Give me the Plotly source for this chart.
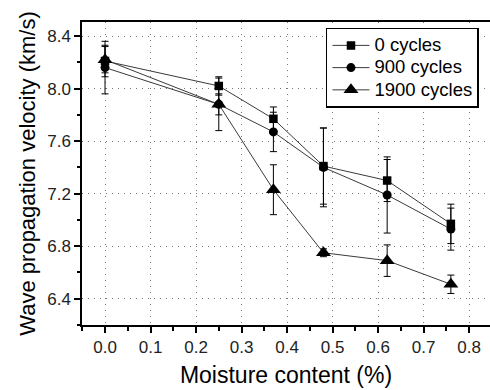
import plotly.graph_objects as go

moisture = [0.0, 0.25, 0.37, 0.48, 0.62, 0.76]

v_0 = [8.21, 8.02, 7.77, 7.41, 7.30, 6.97]
e_0 = [0.12, 0.07, 0.09, 0.29, 0.16, 0.15]

v_900 = [8.16, 7.88, 7.67, 7.40, 7.19, 6.93]
e_900 = [0.20, 0.20, 0.15, 0.30, 0.29, 0.16]

v_1900 = [8.22, 7.88, 7.23, 6.75, 6.69, 6.51]
e_1900 = [0.10, 0.08, 0.19, 0.03, 0.12, 0.07]

series_names = ["0 cycles", "900 cycles", "1900 cycles"]
series_values = [v_0, v_900, v_1900]
series_errors = [e_0, e_900, e_1900]
symbols = ["square", "circle", "triangle-up"]
sizes = [8.5, 9, 13]

FONT = "Arial, Liberation Sans, sans-serif"

fig = go.Figure()
for name, ys, es, sym, sz in zip(series_names, series_values, series_errors, symbols, sizes):
    fig.add_trace(go.Scatter(
        x=moisture, y=ys,
        name='<span style="font-size:18.5px">' + name + '</span>',
        mode="lines+markers",
        line=dict(color="#3a3a3a", width=1),
        marker=dict(symbol=sym, size=sz, color="black"),
        error_y=dict(type="data", array=es, visible=True, color="black",
                     thickness=1, width=3.5),
    ))

fig.update_layout(
    width=490, height=390,
    margin=dict(l=82, r=0, t=22, b=65),
    paper_bgcolor="white", plot_bgcolor="white",
    font=dict(family=FONT, color="black"),
    showlegend=True,
    legend=dict(
        x=0.598, y=0.981, xanchor="left", yanchor="top",
        bgcolor="white", bordercolor="black", borderwidth=1.5,
        font=dict(size=14.8, family=FONT, color="black"),
        tracegroupgap=0, itemwidth=37,
    ),
)

fig.update_xaxes(
    range=[-0.0506, 0.846],
    tickmode="array", tickvals=[0, 0.1, 0.2, 0.3, 0.4, 0.5, 0.6, 0.7, 0.8],
    ticktext=["0.0", "0.1", "0.2", "0.3", "0.4", "0.5", "0.6", "0.7", "0.8"],
    ticks="outside", ticklen=6, tickwidth=1.5, tickcolor="black",
    minor=dict(dtick=0.05, tick0=0, ticks="outside", ticklen=4, tickwidth=1.5, tickcolor="black", showgrid=False),
    showline=True, linecolor="black", linewidth=1.5, mirror=True,
    showgrid=True, gridcolor="#777777", gridwidth=1, griddash="1px,5px",
    zeroline=False,
    tickfont=dict(size=17, color="#222222"),
    title=dict(text="Moisture content (%)", font=dict(size=23, color="black"), standoff=11),
)
fig.update_yaxes(
    range=[6.2, 8.507],
    tickmode="array", tickvals=[6.4, 6.8, 7.2, 7.6, 8.0, 8.4],
    ticktext=["6.4", "6.8", "7.2", "7.6", "8.0", "8.4"],
    ticks="outside", ticklen=6, tickwidth=1.5, tickcolor="black",
    minor=dict(dtick=0.2, tick0=6.2, ticks="outside", ticklen=3, tickwidth=1.5, tickcolor="black", showgrid=False),
    showline=True, linecolor="black", linewidth=1.5, mirror=False,
    showgrid=True, gridcolor="#777777", gridwidth=1, griddash="1px,5px",
    zeroline=False,
    tickfont=dict(size=17, color="#222222"),
    title=dict(text="Wave propagation velocity (km/s)", font=dict(size=22, color="black"), standoff=6),
)

fig.write_html("out.html")
